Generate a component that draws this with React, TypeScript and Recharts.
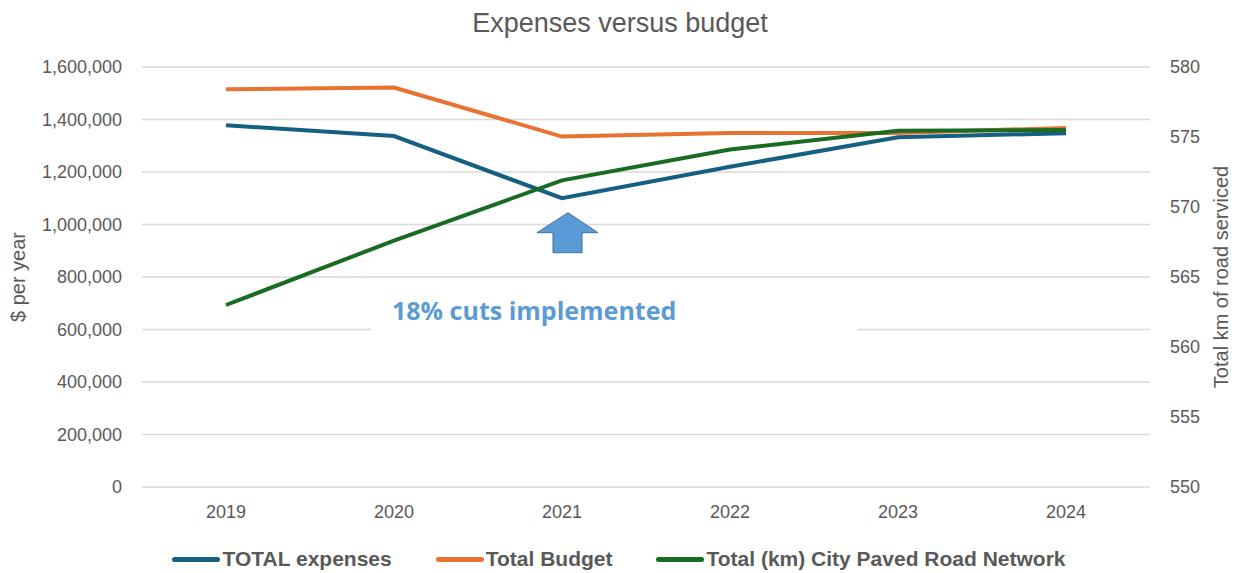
import {
  LineChart,
  Line,
  XAxis,
  YAxis,
  CartesianGrid,
  Legend,
  ReferenceDot,
} from "recharts"

const years = ["2019", "2020", "2021", "2022", "2023", "2024"]
const totalExpenses = [1378000, 1337000, 1100000, 1220000, 1332000, 1348000]
const totalBudget = [1515000, 1522000, 1335000, 1349000, 1349000, 1368000]
const roadKm = [563.0, 567.6, 571.9, 574.1, 575.45, 575.5]

const leftTicks = [0, 200000, 400000, 600000, 800000, 1000000, 1200000, 1400000, 1600000]
const rightTicks = [550, 555, 560, 565, 570, 575, 580]

const seriesNames = ["TOTAL expenses", "Total Budget", "Total (km) City Paved Road Network"]
const seriesColors = ["#156082", "#E97132", "#196B24"]

const title = "Expenses versus budget"
const leftTitle = "$ per year"
const rightTitle = "Total km of road serviced"
const note = "18% cuts implemented"
const noteYear = "2021"
const arrowTipValue = 1045000
const noteValue = 600000

const FONT = "'Liberation Sans', Arial, sans-serif"
const GREY = "#595959"

const data = years.map((y, i) => ({
  year: y,
  expenses: totalExpenses[i],
  budget: totalBudget[i],
  km: roadKm[i],
}))

const fmt = (v: number) => v.toLocaleString("en-US")

function ArrowShape({ cx, cy }: { cx?: number; cy?: number }) {
  if (cx == null || cy == null) return null
  const pts = [
    [cx + 6, cy],
    [cx + 36, cy + 20],
    [cx + 20, cy + 20],
    [cx + 20, cy + 40],
    [cx - 9, cy + 40],
    [cx - 9, cy + 20],
    [cx - 25, cy + 20],
  ]
  return (
    <polygon
      points={pts.map(p => p.join(",")).join(" ")}
      fill="#5B9BD5"
      stroke="#41719C"
      strokeWidth={1}
    />
  )
}

function NoteShape({ cx, cy }: { cx?: number; cy?: number }) {
  if (cx == null || cy == null) return null
  return (
    <g>
      <rect x={cx - 191} y={cy - 40} width={486} height={56} fill="#ffffff" />
      <text
        x={cx - 170}
        y={cy - 10}
        fill="#5B9BD5"
        fontSize={25}
        fontWeight={700}
        fontFamily="'Open Sans', 'Noto Sans', sans-serif"
      >
        {note}
      </text>
    </g>
  )
}

function AxisTitle({ viewBox, text, dx }: { viewBox?: any; text: string; dx: number }) {
  if (!viewBox) return null
  const x = viewBox.x + dx
  const y = viewBox.y + viewBox.height / 2
  return (
    <text
      x={x}
      y={y}
      transform={`rotate(-90, ${x}, ${y})`}
      textAnchor="middle"
      dominantBaseline="central"
      fill={GREY}
      fontSize={20}
      fontFamily={FONT}
    >
      {text}
    </text>
  )
}

function LegendContent() {
  return (
    <div
      style={{
        display: "flex",
        justifyContent: "center",
        alignItems: "center",
        gap: 44,
        height: 28,
        fontFamily: FONT,
        fontWeight: 700,
        fontSize: 21,
        color: GREY,
      }}
    >
      {seriesNames.map((n, i) => (
        <div key={n} style={{ display: "flex", alignItems: "center" }}>
          <div style={{ width: 48, height: 5, borderRadius: 3, background: seriesColors[i], marginRight: 2 }} />
          <span>{n}</span>
        </div>
      ))}
    </div>
  )
}

export default function App() {
  const tick = { fill: GREY, fontSize: 18, fontFamily: FONT }
  return (
    <div style={{ position: "absolute", left: 0, top: 0, width: 1238, height: 573, background: "#fff" }}>
      <LineChart width={1238} height={573} data={data} margin={{ top: 67, right: 18, bottom: 0, left: 42 }}>
        <text x={620} y={32} textAnchor="middle" fill={GREY} fontSize={27} fontFamily={FONT}>
          {title}
        </text>
        <CartesianGrid yAxisId="left" vertical={false} stroke="#d9d9d9" strokeWidth={1.5} />
        <XAxis
          dataKey="year"
          tick={tick}
          tickLine={false}
          axisLine={false}
          tickSize={0}
          tickMargin={18}
          height={58}
          interval={0}
          padding={{ left: 84, right: 84 }}
        />
        <YAxis
          yAxisId="left"
          domain={[0, 1600000]}
          ticks={leftTicks}
          tickFormatter={fmt}
          tick={tick}
          tickLine={false}
          axisLine={false}
          tickSize={0}
          tickMargin={20}
          width={100}
          label={{ content: (p: any) => <AxisTitle viewBox={p.viewBox} text={leftTitle} dx={-24} /> }}
        />
        <YAxis
          yAxisId="right"
          orientation="right"
          domain={[550, 580]}
          ticks={rightTicks}
          tick={{ ...tick, textAnchor: "start" }}
          tickLine={false}
          axisLine={false}
          tickSize={0}
          tickMargin={20}
          width={70}
          label={{ content: (p: any) => <AxisTitle viewBox={p.viewBox} text={rightTitle} dx={71} /> }}
        />
        <Legend
          verticalAlign="bottom"
          height={28}
          content={<LegendContent />}
          wrapperStyle={{ left: 0, width: 1238 }}
        />
        <ReferenceDot yAxisId="left" x={noteYear} y={noteValue} shape={(p: any) => <NoteShape cx={p.cx} cy={p.cy} />} />
        <ReferenceDot yAxisId="left" x={noteYear} y={arrowTipValue} shape={(p: any) => <ArrowShape cx={p.cx} cy={p.cy} />} />
        <Line
          yAxisId="left"
          type="linear"
          dataKey="expenses"
          name={seriesNames[0]}
          stroke={seriesColors[0]}
          strokeWidth={4}
          dot={false}
          isAnimationActive={false}
        />
        <Line
          yAxisId="left"
          type="linear"
          dataKey="budget"
          name={seriesNames[1]}
          stroke={seriesColors[1]}
          strokeWidth={4}
          dot={false}
          isAnimationActive={false}
        />
        <Line
          yAxisId="right"
          type="linear"
          dataKey="km"
          name={seriesNames[2]}
          stroke={seriesColors[2]}
          strokeWidth={4}
          dot={false}
          isAnimationActive={false}
        />
      </LineChart>
    </div>
  )
}
